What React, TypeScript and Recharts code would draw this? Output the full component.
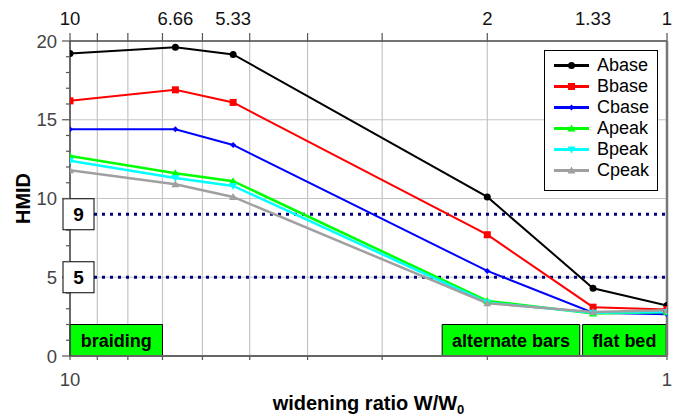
import {
  LineChart,
  Line,
  XAxis,
  YAxis,
  CartesianGrid,
  ReferenceLine,
  ReferenceArea,
} from "recharts";

// widening ratio W/W0 for each measured case
const ratios = [10, 6.66, 5.33, 2, 1.33, 1];

const aBase = [19.2, 19.6, 19.15, 10.1, 4.3, 3.2];
const bBase = [16.2, 16.9, 16.1, 7.7, 3.1, 2.95];
const cBase = [14.4, 14.4, 13.4, 5.4, 2.75, 2.65];
const aPeak = [12.7, 11.6, 11.1, 3.5, 2.7, 2.8];
const bPeak = [12.4, 11.3, 10.8, 3.4, 2.75, 2.8];
const cPeak = [11.8, 10.9, 10.1, 3.35, 2.8, 2.9];

const xMinorTicks = [1, 2, 3, 4, 5, 6, 7, 8, 9, 10];
const xBottomLabels = [10, 1];
const yTicks = [
  0, 1, 2, 3, 4, 5, 6, 7, 8, 9, 10, 11, 12, 13, 14, 15, 16, 17, 18, 19, 20,
];
const yGrid = [5, 10, 15];
const thresholds = [9, 5];

const regimeNames = ["braiding", "alternate bars", "flat bed"];
const regimeFrom = [10, 2.38, 1.385];
const regimeTo = [7, 1.4, 1.003];

const series = [
  { key: "Abase", values: aBase, color: "#000000", shape: "circle", width: 2 },
  { key: "Bbase", values: bBase, color: "#ff0000", shape: "square", width: 2 },
  { key: "Cbase", values: cBase, color: "#0000ff", shape: "diamond", width: 2 },
  { key: "Apeak", values: aPeak, color: "#00ff00", shape: "up", width: 2.5 },
  { key: "Bpeak", values: bPeak, color: "#00ffff", shape: "down", width: 2.5 },
  { key: "Cpeak", values: cPeak, color: "#a0a0a0", shape: "up", width: 2.5 },
];

const data = ratios.map((r, i) => {
  const row: Record<string, number> = { x: r };
  series.forEach((s) => (row[s.key] = s.values[i]));
  return row;
});

const topTicks = Array.from(new Set([...xMinorTicks, ...ratios])).sort(
  (a, b) => a - b
);

const FONT = "'Liberation Sans', Arial, sans-serif";
const TICK_COLOR = "#444";
const TICK_FS = 18.5;

function Marker({ shape, color, cx, cy }: any) {
  if (cx == null || cy == null) return null;
  if (shape === "circle") return <circle cx={cx} cy={cy} r={3.5} fill={color} />;
  if (shape === "square")
    return <rect x={cx - 3.5} y={cy - 3.5} width={7} height={7} fill={color} />;
  if (shape === "diamond")
    return (
      <polygon
        points={`${cx},${cy - 3} ${cx + 3},${cy} ${cx},${cy + 3} ${cx - 3},${cy}`}
        fill={color}
      />
    );
  if (shape === "down")
    return (
      <polygon
        points={`${cx - 4},${cy - 3} ${cx + 4},${cy - 3} ${cx},${cy + 4}`}
        fill={color}
      />
    );
  return (
    <polygon
      points={`${cx - 4},${cy + 3} ${cx + 4},${cy + 3} ${cx},${cy - 4}`}
      fill={color}
    />
  );
}

// left axis tick; the threshold values also get their boxed label here,
// so the box sits on top of the axis line
const LeftTick = ({ x, y, payload }: any) => {
  const v = payload.value;
  const major = v % 5 === 0;
  return (
    <g>
      <line x1={x} x2={x - (major ? 8 : 4)} y1={y} y2={y} stroke="#555" strokeWidth={1.2} />
      {major && (
        <text x={x - 13} y={y + 6.5} textAnchor="end" fontSize={TICK_FS} fill={TICK_COLOR} fontFamily={FONT}>
          {v}
        </text>
      )}
      {thresholds.includes(v) && (
        <g>
          <rect x={x - 7} y={y - 15.5} width={31} height={31} fill="#fff" stroke="#000" strokeWidth={1} />
          <text x={x + 8.5} y={y + 7} textAnchor="middle" fontSize={19} fontWeight="bold" fill="#000" fontFamily={FONT}>
            {v}
          </text>
        </g>
      )}
    </g>
  );
};

const RightTick = ({ x, y, payload }: any) => {
  const v = payload.value;
  const major = v % 5 === 0;
  return (
    <g>
      <line x1={x} x2={x + (major ? 8 : 6)} y1={y} y2={y} stroke="#666" strokeWidth={1.2} />
      {major && (
        <text x={x + 13} y={y + 6.5} textAnchor="start" fontSize={TICK_FS} fill={TICK_COLOR} fontFamily={FONT}>
          {v}
        </text>
      )}
    </g>
  );
};

const BottomTick = ({ x, y, payload }: any) => {
  const v = payload.value;
  return (
    <g>
      <line x1={x} x2={x} y1={y} y2={y + 4} stroke="#555" strokeWidth={1.2} />
      {xBottomLabels.includes(v) && (
        <text x={x} y={y + 30} textAnchor="middle" fontSize={TICK_FS} fill={TICK_COLOR} fontFamily={FONT}>
          {v}
        </text>
      )}
    </g>
  );
};

const TopTick = ({ x, y, payload }: any) => {
  const v = payload.value;
  return (
    <g>
      {xMinorTicks.includes(v) && (
        <line x1={x} x2={x} y1={y} y2={y - 8} stroke="#555" strokeWidth={1.2} />
      )}
      {ratios.includes(v) && (
        <text x={x} y={y - 16} textAnchor="middle" fontSize={TICK_FS} fill="#111" fontFamily={FONT}>
          {v}
        </text>
      )}
    </g>
  );
};

const xTitle = (props: any) => {
  const vb = props.viewBox || {};
  return (
    <text x={vb.x + vb.width / 2} y={vb.y + 54} textAnchor="middle" fontSize={20} fontWeight="bold" fill="#000" fontFamily={FONT}>
      <tspan>widening ratio W/W</tspan>
      <tspan fontSize={13} dy={4}>0</tspan>
    </text>
  );
};

const yTitle = (props: any) => {
  const vb = props.viewBox || {};
  const cy = vb.y + vb.height / 2;
  return (
    <text x={29.5} y={cy} transform={`rotate(-90, 29.5, ${cy})`} textAnchor="middle" fontSize={20} fontWeight="bold" fill="#000" fontFamily={FONT}>
      HMID
    </text>
  );
};

function LegendBox() {
  return (
    <div
      style={{
        position: "absolute",
        left: 544,
        top: 50,
        width: 112,
        height: 135,
        border: "1px solid #000",
        background: "#fff",
        paddingTop: 4,
        fontFamily: FONT,
        fontSize: 18,
        color: "#000",
      }}
    >
      {series.map((s) => (
        <div key={s.key} style={{ height: 21, display: "flex", alignItems: "center" }}>
          <svg width={44} height={21}>
            <line x1={9} x2={44} y1={10.5} y2={10.5} stroke={s.color} strokeWidth={3} />
            <Marker shape={s.shape} color={s.color} cx={26.5} cy={10.5} />
          </svg>
          <span style={{ marginLeft: 8, lineHeight: "21px" }}>{s.key}</span>
        </div>
      ))}
    </div>
  );
}

export default function App() {
  return (
    <div style={{ position: "absolute", left: 0, top: 0, width: 700, height: 418, background: "#fff" }}>
      <LineChart width={700} height={418} data={data} margin={{ top: 0, right: 0, bottom: 0, left: 10 }}>
        <CartesianGrid
          stroke="#c4c4c4"
          strokeWidth={1.2}
          horizontalValues={yGrid}
          verticalValues={xMinorTicks}
        />
        {regimeNames.map((name, i) => (
          <ReferenceArea
            key={name}
            x1={regimeFrom[i]}
            x2={regimeTo[i]}
            y1={0}
            y2={2}
            fill="#00ff00"
            fillOpacity={1}
            stroke="#000"
            strokeWidth={1}
            ifOverflow="extendDomain"
            label={{ value: name, position: "center", fill: "#000", fontSize: 18, fontWeight: "bold", fontFamily: FONT }}
          />
        ))}
        {thresholds.map((t) => (
          <ReferenceLine
            key={t}
            y={t}
            stroke="#000080"
            strokeWidth={3}
            strokeDasharray="3 5"
          />
        ))}
        {series.map((s) => (
          <Line
            key={s.key}
            dataKey={s.key}
            stroke={s.color}
            strokeWidth={s.width}
            isAnimationActive={false}
            dot={(p: any) => <Marker key={`${s.key}-${p.index}`} shape={s.shape} color={s.color} cx={p.cx} cy={p.cy} />}
            activeDot={false}
          />
        ))}
        <XAxis
          dataKey="x"
          type="number"
          scale="log"
          domain={[1, 10]}
          allowDataOverflow
          reversed
          ticks={xMinorTicks}
          interval={0}
          height={62}
          tickSize={0}
          tickMargin={0}
          tickLine={false}
          tick={BottomTick}
          axisLine={{ stroke: "#666", strokeWidth: 2 }}
          label={{ content: xTitle }}
        />
        <XAxis
          xAxisId="top"
          orientation="top"
          dataKey="x"
          type="number"
          scale="log"
          domain={[1, 10]}
          allowDataOverflow
          reversed
          ticks={topTicks}
          interval={0}
          height={41}
          tickSize={0}
          tickMargin={0}
          tickLine={false}
          tick={TopTick}
          axisLine={{ stroke: "#444", strokeWidth: 1.5 }}
        />
        <YAxis
          type="number"
          domain={[0, 20]}
          ticks={yTicks}
          interval={0}
          width={60}
          tickSize={0}
          tickMargin={0}
          tickLine={false}
          tick={LeftTick}
          axisLine={{ stroke: "#444", strokeWidth: 1.5 }}
          label={{ content: yTitle }}
        />
        <YAxis
          yAxisId="right"
          orientation="right"
          type="number"
          domain={[0, 20]}
          ticks={yTicks}
          interval={0}
          width={33}
          tickSize={0}
          tickMargin={0}
          tickLine={false}
          tick={RightTick}
          axisLine={{ stroke: "#777", strokeWidth: 2.5 }}
        />
      </LineChart>
      <LegendBox />
    </div>
  );
}
